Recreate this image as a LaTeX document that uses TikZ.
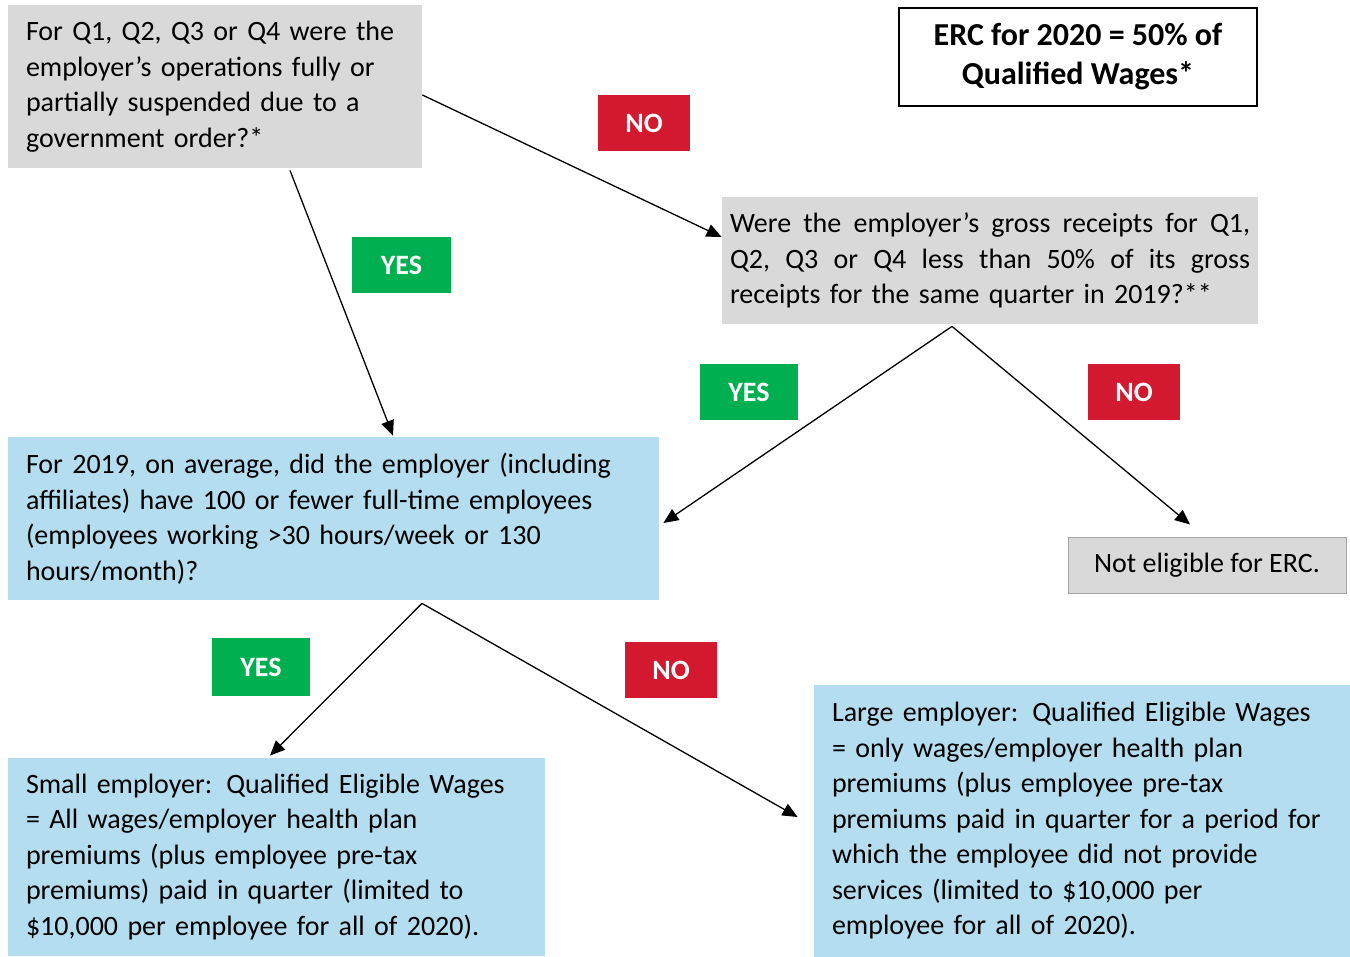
\documentclass[tikz,border=0pt]{standalone}
\usepackage{fontspec}
\setmainfont{Carlito}
\usetikzlibrary{arrows.meta}
\definecolor{qgray}{HTML}{D9D9D9}
\definecolor{bordergray}{HTML}{A6A6A6}
\definecolor{lblue}{HTML}{B4DDF0}
\definecolor{tagred}{HTML}{D2192F}
\definecolor{taggreen}{HTML}{00B050}
\begin{document}
\begin{tikzpicture}[x=0.5pt,y=-0.5pt,
  box/.style={draw=none, inner xsep=9pt, inner ysep=0pt, align=left, text=black,
    font=\fontsize{14}{17.75}\selectfont},
  tag/.style={inner sep=0pt, text=white, font=\fontsize{14}{16}\selectfont\bfseries,
    minimum height=28pt},
  arr/.style={line width=0.65pt, -{Triangle[length=7.5pt,width=6.5pt]}}
]
\useasboundingbox (0,0) rectangle (1350,957);

\node[box, fill=qgray, minimum width=207pt, minimum height=81.5pt, text width=189pt] (q) at (215,86.5)
 {For Q1, Q2, Q3 or Q4 were the\\employer’s operations fully or\\partially suspended due to a\\government order?*};

\node[draw=black, line width=1pt, fill=white, minimum width=179pt, minimum height=49pt, align=center,
  font=\fontsize{16}{19.5}\selectfont\bfseries, inner sep=0pt] (erc) at (1078,57)
 {ERC for 2020 = 50\% of\\Qualified Wages*};

\node[box, fill=qgray, inner xsep=4pt, minimum width=268pt, minimum height=63.5pt, text width=260pt] (g) at (990,260.5)
 {\leavevmode\hbox to 260pt{Were\hfill the\hfill employer’s\hfill gross\hfill receipts\hfill for\hfill Q1,}\\
  \leavevmode\hbox to 260pt{Q2,\hfill Q3\hfill or\hfill Q4\hfill less\hfill than\hfill 50\%\hfill of\hfill its\hfill gross}\\
  receipts for the same quarter in 2019?**};

\node[box, fill=lblue, minimum width=325.5pt, minimum height=81.5pt, text width=307.5pt] (e) at (333.5,518.5)
 {For 2019, on average, did the employer (including\\affiliates) have 100 or fewer full-time employees\\(employees working >30 hours/week or 130\\hours/month)?};

\node[box, fill=qgray, draw=bordergray, line width=0.5pt, align=center, minimum width=139pt, minimum height=28pt] (ne) at (1207,565)
 {Not eligible for ERC.};

\node[box, fill=lblue, minimum width=268.5pt, minimum height=99pt, text width=250.5pt] (s) at (276.5,857)
 {Small employer: Qualified Eligible Wages\\= All wages/employer health plan\\premiums (plus employee pre-tax\\premiums) paid in quarter (limited to\\\$10,000 per employee for all of 2020).};

\node[box, fill=lblue, minimum width=268pt, minimum height=136pt, text width=250pt] (l) at (1082,821)
 {Large employer: Qualified Eligible Wages\\= only wages/employer health plan\\premiums (plus employee pre-tax\\premiums paid in quarter for a period for\\which the employee did not provide\\services (limited to \$10,000 per\\employee for all of 2020).};

\node[tag, fill=tagred, minimum width=46pt] (no1) at (644,123) {NO};
\node[tag, fill=taggreen, minimum width=49.5pt] (yes1) at (401.5,265) {YES};
\node[tag, fill=taggreen, minimum width=49pt] (yes2) at (749,392) {YES};
\node[tag, fill=tagred, minimum width=46pt] (no2) at (1134,392) {NO};
\node[tag, fill=taggreen, minimum width=49pt, minimum height=29pt] (yes3) at (261,667) {YES};
\node[tag, fill=tagred, minimum width=46pt] (no3) at (671,670) {NO};

\draw[arr] ([yshift=-4.25pt]q.east) -- ([yshift=11.75pt]g.west);
\draw[arr] ([xshift=37.5pt,yshift=-1pt]q.south) -- ([xshift=29.75pt,yshift=0.5pt]e.north);
\draw[arr] ([xshift=-19pt,yshift=-1pt]g.south) -- ([xshift=2pt,yshift=-2.25pt]e.east);
\draw[arr] ([xshift=-19pt,yshift=-1pt]g.south) -- ([xshift=-8.5pt,yshift=6pt]ne.north);
\draw[arr] ([xshift=44.25pt,yshift=-1.5pt]e.south) -- ([xshift=-3.25pt,yshift=1pt]s.north);
\draw[arr] ([xshift=44.25pt,yshift=-1.5pt]e.south) -- ([xshift=-8pt,yshift=2pt]l.west);
\end{tikzpicture}
\end{document}
